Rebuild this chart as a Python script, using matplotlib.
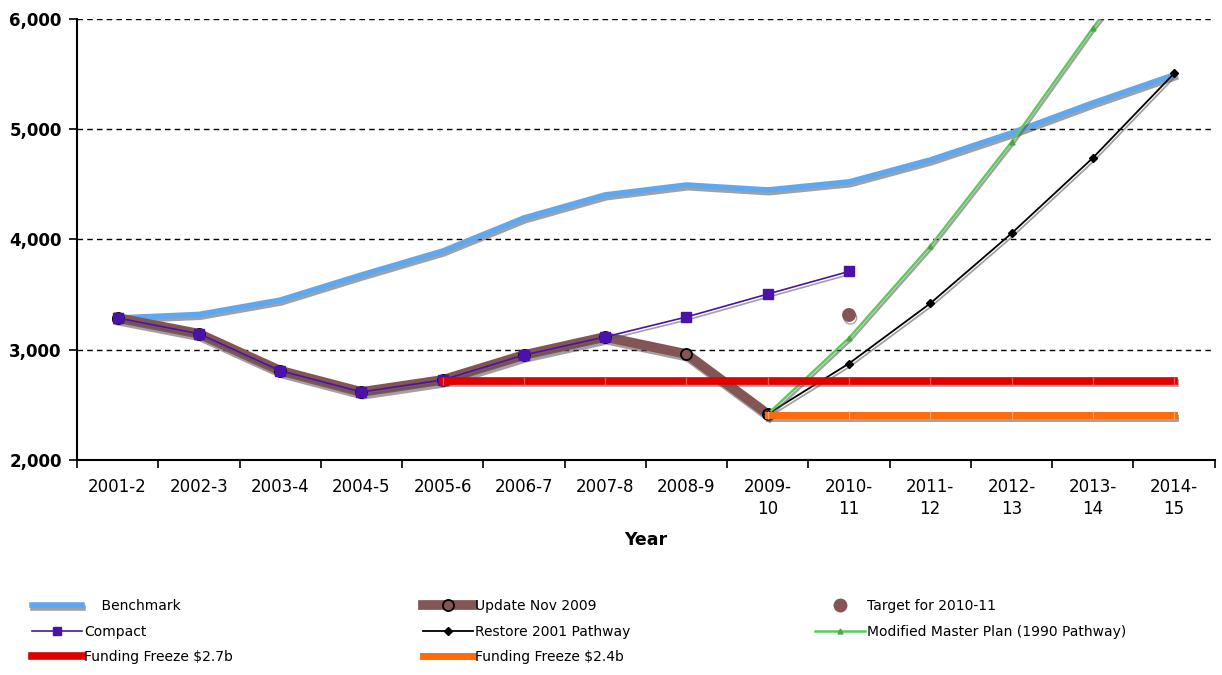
import matplotlib
matplotlib.use("Agg")
import matplotlib.pyplot as plt
import matplotlib.patheffects as pe
from matplotlib.lines import Line2D
import numpy as np

# --- Data ---
years = ["2001-2", "2002-3", "2003-4", "2004-5", "2005-6", "2006-7", "2007-8",
         "2008-9", "2009-\n10", "2010-\n11", "2011-\n12", "2012-\n13",
         "2013-\n14", "2014-\n15"]

benchmark   = [3288, 3320, 3450, 3678, 3895, 4195, 4404, 4494, 4449, 4522,
               4721, 4966, 5238, 5492]
update_nov  = [3288, 3145, 2810, 2617, 2726, 2952, 3116, 2961, 2417]
compact     = [3288, 3145, 2810, 2617, 2726, 2952, 3116, 3297, 3505, 3710]
target_idx  = [9]
target_val  = [3315]
restore_idx = [8, 9, 10, 11, 12, 13]
restore     = [2417, 2875, 3420, 4055, 4739, 5505]
modified_idx = [8, 9, 10, 11, 12, 13]
modified    = [2417, 3107, 3940, 4884, 5918, 6870]
freeze27_idx = [4, 5, 6, 7, 8, 9, 10, 11, 12, 13]
freeze27    = [2720] * 10
freeze24_idx = [8, 9, 10, 11, 12, 13]
freeze24    = [2410] * 6

BENCH_C  = "#5EA8F2"
UPDATE_C = "#845555"
COMP_C   = "#4A12A8"
MOD_C    = "#5CCB5C"
F27_C    = "#E00000"
F24_C    = "#FF6A0A"


def shadow():
    return [pe.SimpleLineShadow(offset=(1, -2), shadow_color="#555555", alpha=0.55),
            pe.Normal()]


fig = plt.figure(figsize=(12.22, 6.75), dpi=100)
ax = fig.add_axes([0.063, 0.3185, 0.931, 0.6535])

x = np.arange(len(years))
xu = x[:len(update_nov)]
xc = x[:len(compact)]

# lines (with drop shadow), markers drawn separately
ax.plot(x, benchmark, color=BENCH_C, lw=4, zorder=2, path_effects=shadow())
ax.plot(xu, update_nov, color=UPDATE_C, lw=7, zorder=3, path_effects=shadow())
ax.plot(xu, update_nov, ls="none", marker="o", ms=8, mfc=UPDATE_C, mec="black",
        mew=1.3, zorder=3.5)
ax.plot(xc, compact, color=COMP_C, lw=1.2, zorder=4, path_effects=shadow())
ax.plot(xc, compact, ls="none", marker="s", ms=7, color=COMP_C, zorder=4.5)
ax.plot(target_idx, target_val, ls="none", marker="o", ms=9, color=UPDATE_C,
        zorder=4, path_effects=shadow())
ax.plot(restore_idx, restore, color="black", lw=1.3, zorder=5, path_effects=shadow())
ax.plot(restore_idx, restore, ls="none", marker="D", ms=4.5, color="black", zorder=5.5)
ax.plot(modified_idx, modified, color=MOD_C, lw=1.8, zorder=5, path_effects=shadow())
ax.plot(modified_idx, modified, ls="none", marker="^", ms=3.5, color="#44AA44",
        zorder=5.5)
ax.plot(freeze27_idx, freeze27, color=F27_C, lw=5.5, zorder=6, path_effects=shadow())
ax.plot(freeze27_idx, freeze27, ls="none", marker="|", ms=6, mec="#FF5050", zorder=6.5)
ax.plot(freeze24_idx, freeze24, color=F24_C, lw=5, zorder=6, path_effects=shadow())
ax.plot(freeze24_idx, freeze24, ls="none", marker="|", ms=6, mec="#FFA060", zorder=6.5)

# --- Axes ---
ax.set_xlim(-0.5, len(years) - 0.5)
ax.set_ylim(2000, 6000)
yt = [2000, 3000, 4000, 5000, 6000]
ax.set_yticks(yt)
ax.set_yticklabels([f"{v:,}" for v in yt], fontsize=12, fontweight="bold")
ax.set_xticks(np.arange(-0.5, len(years)), labels=[])
ax.set_xticks(x, labels=years, minor=True, fontsize=12)
ax.tick_params(axis="x", which="major", length=6, width=1.2, direction="out")
ax.tick_params(axis="x", which="minor", length=0, pad=13)
ax.tick_params(axis="y", length=6, width=1.2, direction="out", pad=5)
for lab in ax.get_xticklabels(minor=True):
    lab.set_linespacing(1.25)
    lab.set_verticalalignment("top")

for v in [3000, 4000, 5000, 6000]:
    ax.axhline(v, color="black", lw=1, ls=(0, (4, 3)), zorder=1)

for s in ["top", "right"]:
    ax.spines[s].set_visible(False)
for s in ["left", "bottom"]:
    ax.spines[s].set_linewidth(1.5)

ax.set_xlabel("Year", fontsize=12.5, fontweight="bold", labelpad=10)

# --- Legend (three columns) ---
h_bench = Line2D([], [], color=BENCH_C, lw=4, path_effects=shadow())
h_upd = Line2D([], [], color=UPDATE_C, lw=7, marker="o", ms=8, mfc=UPDATE_C,
               mec="black", mew=1.3)
h_comp = Line2D([], [], color=COMP_C, lw=1.2, marker="s", ms=6)
h_tgt = Line2D([], [], ls="none", marker="o", ms=9, color=UPDATE_C)
h_rest = Line2D([], [], color="black", lw=1.3, marker="D", ms=4)
h_mod = Line2D([], [], color=MOD_C, lw=1.8, marker="^", ms=3.5, mfc="#44AA44",
               mec="#44AA44")
h_f27 = Line2D([], [], color=F27_C, lw=5.5)
h_f24 = Line2D([], [], color=F24_C, lw=5)

common = dict(frameon=False, fontsize=10, handlelength=3.6, handletextpad=0.15,
              labelspacing=0.85, borderpad=0, borderaxespad=0, loc="upper left")
fig.legend(handles=[h_bench, h_comp, h_f27],
           labels=["    Benchmark", "Compact", "Funding Freeze $2.7b"],
           bbox_to_anchor=(0.026, 0.113), **common)
fig.legend(handles=[h_upd, h_rest, h_f24],
           labels=["Update Nov 2009", "Restore 2001 Pathway", "Funding Freeze $2.4b"],
           bbox_to_anchor=(0.346, 0.113), **common)
fig.legend(handles=[h_tgt, h_mod],
           labels=["Target for 2010-11", "Modified Master Plan (1990 Pathway)"],
           bbox_to_anchor=(0.667, 0.113), **common)

fig.savefig("out.png", dpi=100)
